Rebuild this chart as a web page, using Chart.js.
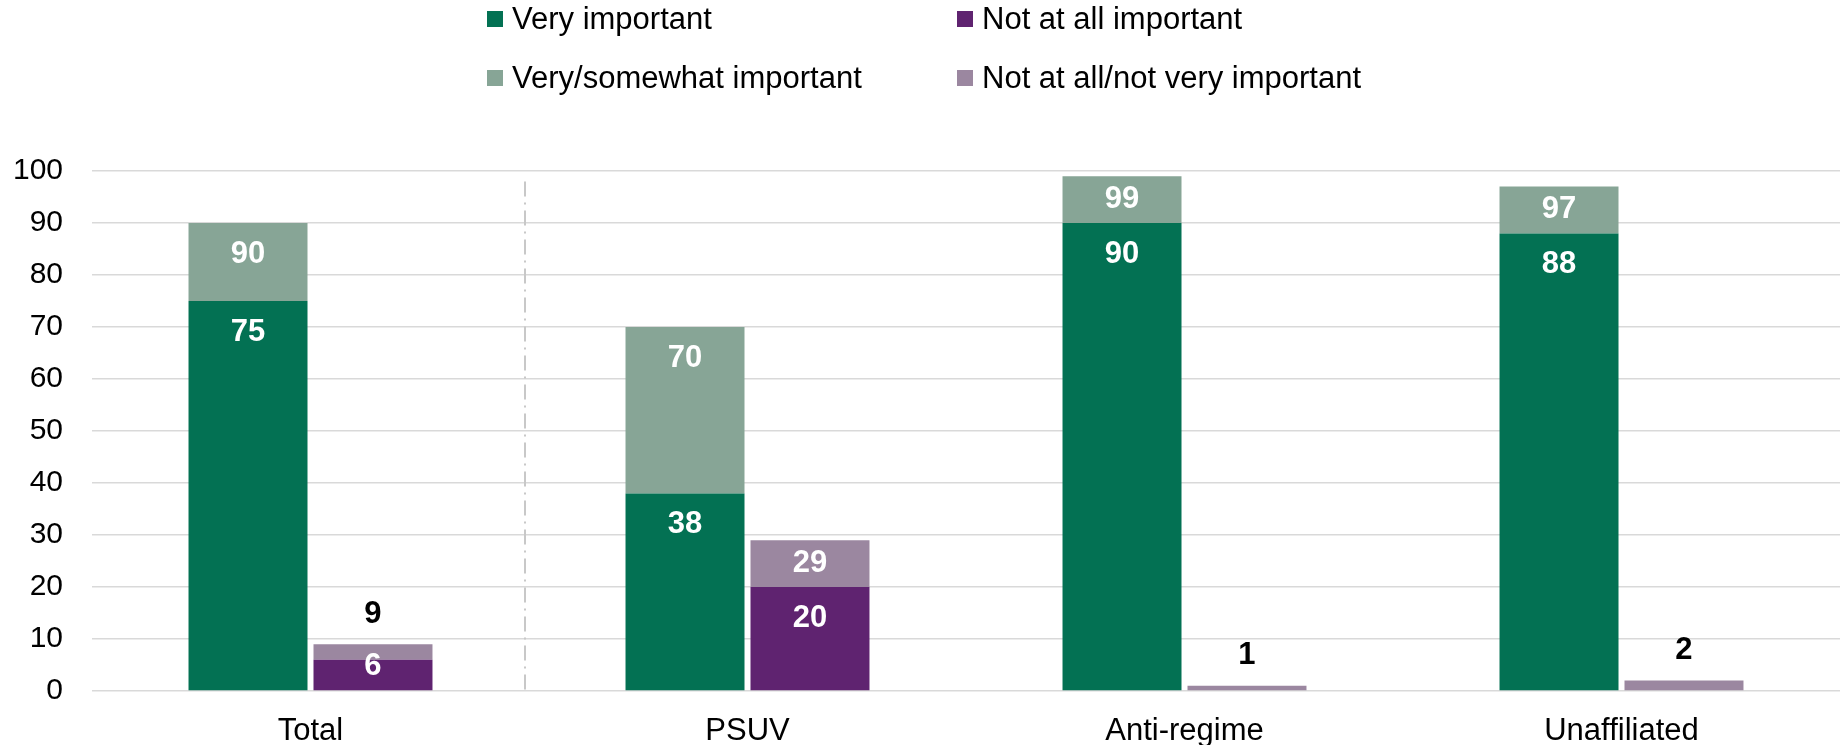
<!DOCTYPE html>
<html lang="en">
<head>
  <meta charset="UTF-8" />
  <title>Importance by affiliation</title>
  <script src="https://cdn.jsdelivr.net/npm/chart.js@4"></script>
  <style>
    body { margin: 0; background: #fff; font-family: 'Liberation Sans', Arial, sans-serif; }
    .wrap { position: relative; width: 1841px; height: 745px; }
    .legend .item { position: absolute; display: flex; align-items: center; font-size: 31px; line-height: 34px; color: #000; white-space: nowrap; }
    .legend .box { width: 16px; height: 16px; margin-right: 9px; }
  </style>
</head>
<body>
  <div class="wrap">
    <canvas id="chart"></canvas>
    <div class="legend" id="legend"></div>
  </div>

  <script>
    // values
    const groups = ['Total', 'PSUV', 'Anti-regime', 'Unaffiliated'];
    const veryImportant = [75, 38, 90, 88];
    const verySomewhatImportant = [90, 70, 99, 97];
    const notAtAllImportant = [6, 20, 0, 0];
    const notAtAllNotVeryImportant = [9, 29, 1, 2];
    const yTicks = [0, 10, 20, 30, 40, 50, 60, 70, 80, 90, 100];

    const colors = {
      veryImp: '#037153',
      someImp: '#87a596',
      notAll: '#5f2370',
      notVery: '#9b87a0'
    };

    // stacked segments: the lighter part is the remainder above the darker one
    const someRest = verySomewhatImportant.map((v, i) => v - veryImportant[i]);
    const notRest = notAtAllNotVeryImportant.map((v, i) => v - notAtAllImportant[i]);

    const datasets = [
      { label: 'Very important', data: veryImportant, backgroundColor: colors.veryImp, stack: 'imp', shown: veryImportant },
      { label: 'Very/somewhat important', data: someRest, backgroundColor: colors.someImp, stack: 'imp', shown: verySomewhatImportant },
      { label: 'Not at all important', data: notAtAllImportant, backgroundColor: colors.notAll, stack: 'not', shown: notAtAllImportant },
      { label: 'Not at all/not very important', data: notRest, backgroundColor: colors.notVery, stack: 'not', shown: notAtAllNotVeryImportant }
    ];

    // legend laid out in two columns like the original
    const legendPos = [
      { ds: 0, left: 487, top: 2 },
      { ds: 2, left: 957, top: 2 },
      { ds: 1, left: 487, top: 61 },
      { ds: 3, left: 957, top: 61 }
    ];
    document.getElementById('legend').innerHTML = legendPos.map(p =>
      `<div class="item" style="left:${p.left}px;top:${p.top}px">
         <span class="box" style="background:${datasets[p.ds].backgroundColor}"></span>${datasets[p.ds].label}
       </div>`).join('');

    // value labels: inside the top of each segment, or above it if the segment is thin
    const valueLabels = {
      id: 'valueLabels',
      afterDatasetsDraw(chart) {
        const ctx = chart.ctx;
        ctx.save();
        ctx.font = 'bold 31px "Liberation Sans", Arial, sans-serif';
        ctx.textAlign = 'center';
        ctx.textBaseline = 'middle';
        chart.data.datasets.forEach((ds, i) => {
          const meta = chart.getDatasetMeta(i);
          meta.data.forEach((bar, j) => {
            const shown = ds.shown[j];
            if (!shown) return;
            const h = bar.base - bar.y;
            if (h < 30 && i % 2 === 1) {
              ctx.fillStyle = '#000';
              ctx.fillText(shown, bar.x, bar.y - 30);
            } else {
              ctx.fillStyle = '#fff';
              ctx.fillText(shown, bar.x, Math.min(bar.y + 31, bar.base - 24));
            }
          });
        });
        ctx.restore();
      }
    };

    // dash-dot divider between Total and the groups
    const divider = {
      id: 'divider',
      beforeDatasetsDraw(chart) {
        const x = chart.scales.x, y = chart.scales.y;
        const px = (x.getPixelForValue(0) + x.getPixelForValue(1)) / 2 - 4;
        const ctx = chart.ctx;
        ctx.save();
        ctx.strokeStyle = '#c8c8c8';
        ctx.lineWidth = 2;
        ctx.setLineDash([15, 6, 2, 6]);
        ctx.beginPath();
        ctx.moveTo(px, y.getPixelForValue(98));
        ctx.lineTo(px, y.getPixelForValue(0));
        ctx.stroke();
        ctx.restore();
      }
    };

    Chart.defaults.font.family = "'Liberation Sans', Arial, sans-serif";
    Chart.defaults.color = '#000';

    new Chart(document.getElementById('chart'), {
      type: 'bar',
      data: { labels: groups, datasets: datasets },
      options: {
        responsive: true,
        maintainAspectRatio: false,
        animation: false,
        categoryPercentage: 0.572,
        barPercentage: 0.952,
        layout: { padding: { top: 171, left: 0, right: 1, bottom: 0 } },
        plugins: { legend: { display: false }, tooltip: { enabled: false } },
        scales: {
          x: {
            stacked: true,
            grid: { display: false, drawTicks: false },
            border: { display: false },
            ticks: { font: { size: 31 }, padding: 22, color: '#000' },
            afterFit: axis => { axis.height = 54; }
          },
          y: {
            stacked: true,
            min: 0,
            max: 100,
            afterBuildTicks: axis => { axis.ticks = yTicks.map(v => ({ value: v })); },
            grid: { color: '#d9d9d9', lineWidth: 1.5, drawTicks: false },
            border: { display: false },
            ticks: { font: { size: 30 }, padding: 29, color: '#000' },
            afterFit: axis => { axis.width = 92; }
          }
        }
      },
      plugins: [divider, valueLabels]
    });
  </script>
</body>
</html>
